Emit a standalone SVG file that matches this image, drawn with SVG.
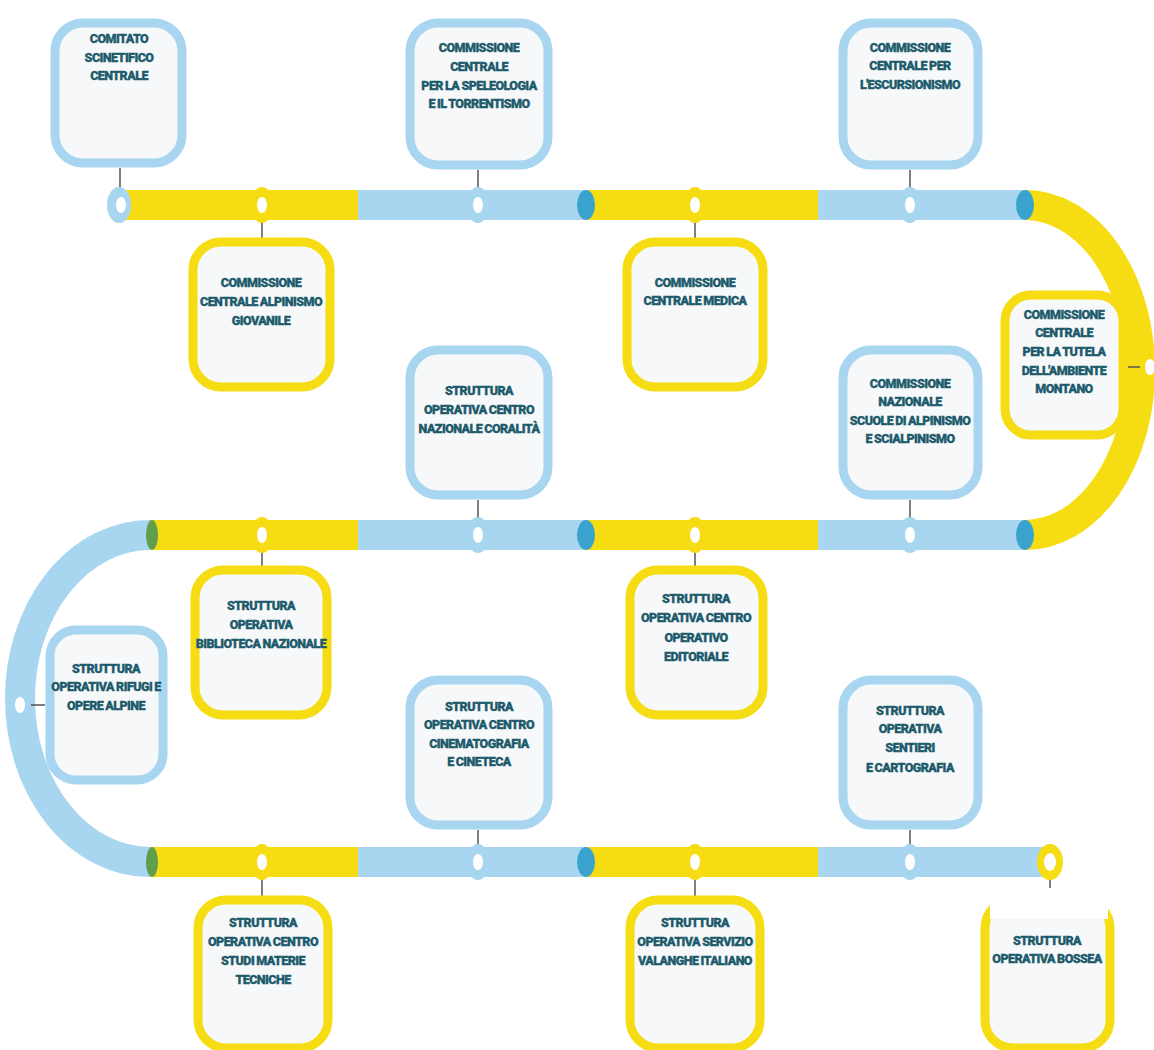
<svg xmlns="http://www.w3.org/2000/svg" width="1154" height="1050" viewBox="0 0 1154 1050">
<style>
.bl{fill:#a8d5f0}
.ye{fill:#f6dc12}
.nb{fill:#f7f8f9;stroke:#a8d5f0;stroke-width:9}
.ny{fill:#f7f8f9;stroke:#f6dc12;stroke-width:9}
.t{font-family:Roboto,"Liberation Sans",sans-serif;font-weight:900;font-size:12.5px;fill:#1d5b6c;stroke:#1d5b6c;stroke-width:0.35px;text-anchor:middle;letter-spacing:-0.55px;word-spacing:-0.5px}
.ln{stroke:#555;stroke-width:1.5}
.core{fill:#fff}
.dk{fill:#3aa3cd}
.gr{fill:#5f9e4a}
</style>
<rect width="1154" height="1050" fill="#fff"/>
<g id="connectors">
<rect class="ye" x="125" y="190" width="235" height="30"/>
<rect class="bl" x="358" y="190" width="227" height="30"/>
<rect class="ye" x="585" y="190" width="233" height="30"/>
<rect class="bl" x="818" y="190" width="207" height="30"/>
<path d="M1025,205 A115,165 0 0 1 1025,535" fill="none" stroke="#f6dc12" stroke-width="30"/>
<rect class="ye" x="150" y="520" width="208" height="30"/>
<rect class="bl" x="358" y="520" width="227" height="30"/>
<rect class="ye" x="585" y="520" width="233" height="30"/>
<rect class="bl" x="818" y="520" width="207" height="30"/>
<path d="M150,535 A130,163.5 0 0 0 150,862" fill="none" stroke="#a8d5f0" stroke-width="30"/>
<rect class="ye" x="150" y="847" width="208" height="30"/>
<rect class="bl" x="358" y="847" width="227" height="30"/>
<rect class="ye" x="585" y="847" width="233" height="30"/>
<rect class="bl" x="818" y="847" width="232" height="30"/>
<ellipse class="dk" cx="586" cy="205" rx="9" ry="15"/>
<ellipse class="dk" cx="1025" cy="205" rx="9" ry="15"/>
<ellipse class="dk" cx="586" cy="535" rx="9" ry="15"/>
<ellipse class="dk" cx="1025" cy="535" rx="9" ry="15"/>
<ellipse class="dk" cx="586" cy="862" rx="9" ry="15"/>
<ellipse class="gr" cx="152" cy="535" rx="6" ry="15"/>
<ellipse class="gr" cx="152" cy="862" rx="6" ry="15"/>
<line class="ln" x1="120" y1="168" x2="120" y2="190"/>
<line class="ln" x1="262" y1="220" x2="262" y2="238"/>
<line class="ln" x1="478" y1="170" x2="478" y2="190"/>
<line class="ln" x1="695" y1="220" x2="695" y2="238"/>
<line class="ln" x1="910" y1="170" x2="910" y2="190"/>
<line class="ln" x1="262" y1="550" x2="262" y2="566"/>
<line class="ln" x1="478" y1="500" x2="478" y2="520"/>
<line class="ln" x1="695" y1="550" x2="695" y2="566"/>
<line class="ln" x1="910" y1="500" x2="910" y2="520"/>
<line class="ln" x1="262" y1="877" x2="262" y2="896"/>
<line class="ln" x1="478" y1="830" x2="478" y2="847"/>
<line class="ln" x1="695" y1="877" x2="695" y2="896"/>
<line class="ln" x1="910" y1="830" x2="910" y2="847"/>
<line class="ln" x1="1050" y1="877" x2="1050" y2="896"/>
<line class="ln" x1="1128" y1="367" x2="1142" y2="367"/>
<line class="ln" x1="30" y1="705" x2="45" y2="705"/>
<ellipse class="bl" cx="119" cy="205" rx="12" ry="18"/><ellipse class="core" cx="121" cy="205" rx="5" ry="8"/>
<ellipse class="ye" cx="262" cy="205" rx="11" ry="18"/><ellipse class="core" cx="262" cy="205" rx="5" ry="8"/>
<ellipse class="bl" cx="478" cy="205" rx="11" ry="18"/><ellipse class="core" cx="478" cy="205" rx="5" ry="8"/>
<ellipse class="ye" cx="695" cy="205" rx="11" ry="18"/><ellipse class="core" cx="695" cy="205" rx="5" ry="8"/>
<ellipse class="bl" cx="910" cy="205" rx="11" ry="18"/><ellipse class="core" cx="910" cy="205" rx="5" ry="8"/>
<ellipse class="ye" cx="262" cy="535" rx="11" ry="18"/><ellipse class="core" cx="262" cy="535" rx="5" ry="8"/>
<ellipse class="bl" cx="478" cy="535" rx="11" ry="18"/><ellipse class="core" cx="478" cy="535" rx="5" ry="8"/>
<ellipse class="ye" cx="695" cy="535" rx="11" ry="18"/><ellipse class="core" cx="695" cy="535" rx="5" ry="8"/>
<ellipse class="bl" cx="910" cy="535" rx="11" ry="18"/><ellipse class="core" cx="910" cy="535" rx="5" ry="8"/>
<ellipse class="ye" cx="262" cy="862" rx="11" ry="18"/><ellipse class="core" cx="262" cy="862" rx="5" ry="8"/>
<ellipse class="bl" cx="478" cy="862" rx="11" ry="18"/><ellipse class="core" cx="478" cy="862" rx="5" ry="8"/>
<ellipse class="ye" cx="695" cy="862" rx="11" ry="18"/><ellipse class="core" cx="695" cy="862" rx="5" ry="8"/>
<ellipse class="bl" cx="910" cy="862" rx="11" ry="18"/><ellipse class="core" cx="910" cy="862" rx="5" ry="8"/>
<ellipse class="ye" cx="1050" cy="862" rx="13" ry="18"/><ellipse class="core" cx="1050" cy="862" rx="6" ry="9"/>
<ellipse class="ye" cx="1150" cy="367" rx="10" ry="15"/><ellipse class="core" cx="1150" cy="367" rx="5" ry="8"/>
<ellipse class="bl" cx="20" cy="705" rx="11" ry="17"/><ellipse class="core" cx="20" cy="705" rx="5" ry="8"/>
</g>
<g id="n1"><rect class="nb" x="55" y="23" width="127" height="140" rx="28"/>
<text class="t" x="119" y="42.5">COMITATO</text><text class="t" x="119" y="61.5">SCINETIFICO</text><text class="t" x="119" y="79.5">CENTRALE</text></g>
<g id="n2"><rect class="nb" x="410" y="23" width="138" height="142" rx="28"/>
<text class="t" x="479" y="51.5">COMMISSIONE</text><text class="t" x="479" y="70.5">CENTRALE</text><text class="t" x="479" y="89.5">PER LA SPELEOLOGIA</text><text class="t" x="479" y="107.5">E IL TORRENTISMO</text></g>
<g id="n3"><rect class="nb" x="843" y="23" width="135" height="142" rx="28"/>
<text class="t" x="910" y="51.5">COMMISSIONE</text><text class="t" x="910" y="69.5">CENTRALE PER</text><text class="t" x="910" y="88.5">L'ESCURSIONISMO</text></g>
<g id="n4"><rect class="ny" x="193" y="242" width="137" height="145" rx="28"/>
<text class="t" x="261" y="286.5">COMMISSIONE</text><text class="t" x="261" y="305.5">CENTRALE ALPINISMO</text><text class="t" x="261" y="324.5">GIOVANILE</text></g>
<g id="n5"><rect class="ny" x="627" y="242" width="136" height="145" rx="28"/>
<text class="t" x="695" y="286.5">COMMISSIONE</text><text class="t" x="695" y="304.5">CENTRALE MEDICA</text></g>
<g id="n6"><rect class="ny" x="1005" y="295" width="118" height="140" rx="26"/>
<text class="t" x="1064" y="318.5">COMMISSIONE</text><text class="t" x="1064" y="336.5">CENTRALE</text><text class="t" x="1064" y="355.5">PER LA TUTELA</text><text class="t" x="1064" y="374.5">DELL'AMBIENTE</text><text class="t" x="1064" y="392.5">MONTANO</text></g>
<g id="n7"><rect class="nb" x="410" y="350" width="138" height="145" rx="28"/>
<text class="t" x="479" y="394.5">STRUTTURA</text><text class="t" x="479" y="413.5">OPERATIVA CENTRO</text><text class="t" x="479" y="432.5">NAZIONALE CORALITÀ</text></g>
<g id="n8"><rect class="nb" x="843" y="350" width="135" height="145" rx="28"/>
<text class="t" x="910" y="387.5">COMMISSIONE</text><text class="t" x="910" y="405.5">NAZIONALE</text><text class="t" x="910" y="424.5">SCUOLE DI ALPINISMO</text><text class="t" x="910" y="442.5">E SCIALPINISMO</text></g>
<g id="n9"><rect class="ny" x="195" y="570" width="132" height="145" rx="28"/>
<text class="t" x="261" y="609.5">STRUTTURA</text><text class="t" x="261" y="628.5">OPERATIVA</text><text class="t" x="261" y="647.5">BIBLIOTECA NAZIONALE</text></g>
<g id="n10"><rect class="nb" x="50" y="630" width="113" height="150" rx="26"/>
<text class="t" x="106" y="672.5">STRUTTURA</text><text class="t" x="106" y="690.5">OPERATIVA RIFUGI E</text><text class="t" x="106" y="709.5">OPERE ALPINE</text></g>
<g id="n11"><rect class="ny" x="630" y="570" width="133" height="145" rx="28"/>
<text class="t" x="696" y="602.5">STRUTTURA</text><text class="t" x="696" y="621.5">OPERATIVA CENTRO</text><text class="t" x="696" y="641.5">OPERATIVO</text><text class="t" x="696" y="660.5">EDITORIALE</text></g>
<g id="n12"><rect class="nb" x="410" y="680" width="138" height="145" rx="28"/>
<text class="t" x="479" y="710.5">STRUTTURA</text><text class="t" x="479" y="728.5">OPERATIVA CENTRO</text><text class="t" x="479" y="747.5">CINEMATOGRAFIA</text><text class="t" x="479" y="765.5">E CINETECA</text></g>
<g id="n13"><rect class="nb" x="843" y="680" width="135" height="145" rx="28"/>
<text class="t" x="910" y="714.5">STRUTTURA</text><text class="t" x="910" y="732.5">OPERATIVA</text><text class="t" x="910" y="751.5">SENTIERI</text><text class="t" x="910" y="771.5">E CARTOGRAFIA</text></g>
<g id="n14"><rect class="ny" x="198" y="900" width="130" height="148" rx="28"/>
<text class="t" x="263" y="926.5">STRUTTURA</text><text class="t" x="263" y="945.5">OPERATIVA CENTRO</text><text class="t" x="263" y="964.5">STUDI MATERIE</text><text class="t" x="263" y="983.5">TECNICHE</text></g>
<g id="n15"><rect class="ny" x="630" y="900" width="130" height="148" rx="28"/>
<text class="t" x="695" y="926.5">STRUTTURA</text><text class="t" x="695" y="945.5">OPERATIVA SERVIZIO</text><text class="t" x="695" y="964.5">VALANGHE ITALIANO</text></g>
<g id="n16"><rect class="ny" x="985" y="900" width="125" height="148" rx="28"/>
<rect x="990" y="888" width="118" height="31" fill="#fff"/>
<text class="t" x="1047" y="944.5">STRUTTURA</text><text class="t" x="1047" y="962.5">OPERATIVA BOSSEA</text></g>
</svg>
